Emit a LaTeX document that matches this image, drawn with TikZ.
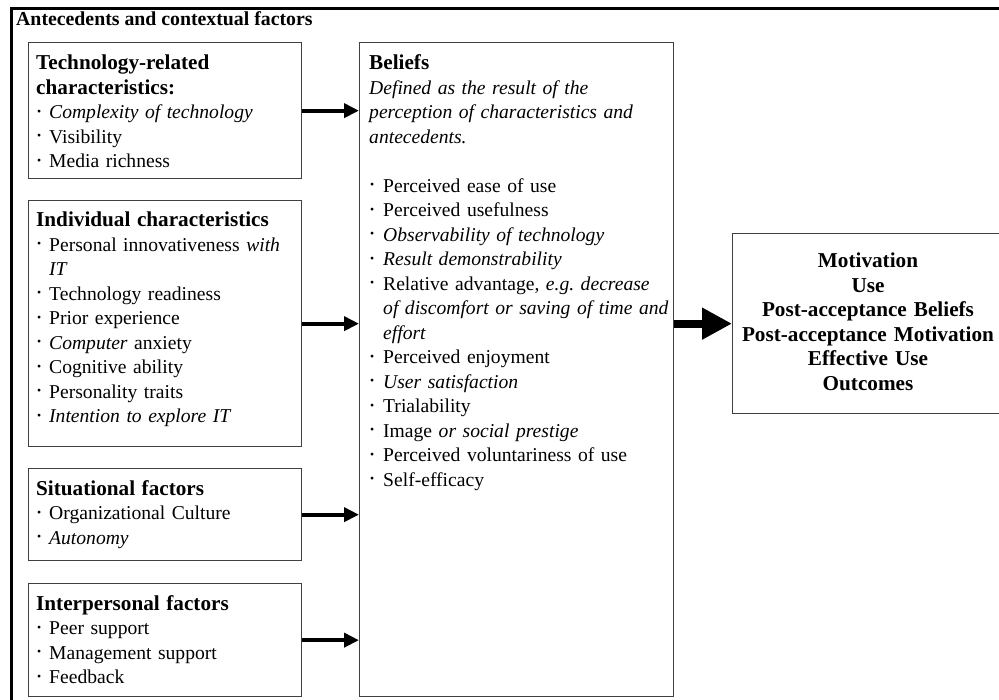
\documentclass[tikz,border=0pt]{standalone}
\usepackage{fontspec}
\setmainfont{Liberation Serif}
\usetikzlibrary{arrows.meta,calc}
\newcommand\bl{\makebox[13pt][l]{\hspace{1pt}\raisebox{3.5pt}{\scalebox{0.6}{•}}}}
\newcommand\blb{\makebox[14pt][l]{\hspace{1pt}\raisebox{3.5pt}{\scalebox{0.6}{•}}}}
\newcommand\hd[1]{{\fontsize{21.2}{24.5}\selectfont\bfseries #1}}
\begin{document}
\begin{tikzpicture}[x=1pt,y=-1pt,
  box/.style={draw=black!75,line width=1.3pt,anchor=north west,inner sep=0pt},
  txt/.style={anchor=base west,inner sep=0pt,align=left,text width=#1,
    font=\fontsize{19.6}{24.5}\selectfont\frenchspacing},
  conn/.style={line width=4pt,-{Triangle[length=15pt,width=14pt]}},
  bigconn/.style={line width=8pt,-{Triangle[length=30pt,width=30pt]}}]
\clip (0,0) rectangle (999,700);
\fill[white] (0,0) rectangle (999,700);
% outer frame
\draw[line width=3pt] (11,8.5) rectangle (1020,720);
\node[anchor=base west,inner sep=0pt,font=\bfseries\fontsize{19.8}{23}\selectfont] (title) at (16,26) {Antecedents and contextual factors};
% boxes
\node[box,minimum width=273pt,minimum height=136pt] (tech) at (28,42) {};
\node[box,minimum width=273pt,minimum height=246pt] (ind) at (28,200) {};
\node[box,minimum width=273pt,minimum height=92pt] (sit) at (28,468) {};
\node[box,minimum width=273pt,minimum height=113pt] (inter) at (28,583) {};
\node[box,minimum width=314pt,minimum height=654pt] (bel) at (359,42) {};
\node[box,minimum width=290pt,minimum height=180pt] (out) at (732,233) {};
% texts
\node[txt=300pt] (techt) at (36,70) {\hd{Technology-related}\\\hd{characteristics:}\\
\bl\textit{Complexity of technology}\\\bl Visibility\\\bl Media richness};
\node[txt=300pt] (indt) at (36,227) {\hd{Individual characteristics}\\
\bl Personal innovativeness \textit{with}\\\hspace*{13pt}\textit{IT}\\
\bl Technology readiness\\\bl Prior experience\\\bl\textit{Computer} anxiety\\
\bl Cognitive ability\\\bl Personality traits\\\bl\textit{Intention to explore IT}};
\node[txt=300pt] (sitt) at (36,495) {\hd{Situational factors}\\
\bl Organizational Culture\\\bl\textit{Autonomy}};
\node[txt=300pt] (intert) at (36,610) {\hd{Interpersonal factors}\\
\bl Peer support\\\bl Management support\\\bl Feedback};
\node[txt=360pt] (belt) at (369,70) {\hd{Beliefs}\\
\textit{Defined as the result of the}\\\textit{perception of characteristics and}\\\textit{antecedents.}\\[24.5pt]
\blb Perceived ease of use\\\blb Perceived usefulness\\\blb\textit{Observability of technology}\\
\blb\textit{Result demonstrability}\\\blb Relative advantage, \textit{e.g. decrease}\\
\hspace*{14pt}\textit{of discomfort or saving of time and}\\\hspace*{14pt}\textit{effort}\\
\blb Perceived enjoyment\\\blb\textit{User satisfaction}\\\blb Trialability\\
\blb Image \textit{or social prestige}\\\blb Perceived voluntariness of use\\\blb Self-efficacy};
\node[anchor=base,inner sep=0pt,align=center,text width=300pt,font=\bfseries\fontsize{21.2}{24.5}\selectfont] (outt) at (868,268)
{Motivation\\Use\\Post-acceptance Beliefs\\Post-acceptance Motivation\\Effective Use\\Outcomes};
% connectors
\draw[conn] (tech.east) -- (tech.east -| bel.west);
\draw[conn] (ind.east) -- (ind.east -| bel.west);
\draw[conn] (sit.east) -- (sit.east -| bel.west);
\draw[conn] (inter.east) -- (inter.east -| bel.west);
\draw[bigconn] (out.west -| bel.east) -- (out.west);
\end{tikzpicture}
\end{document}
